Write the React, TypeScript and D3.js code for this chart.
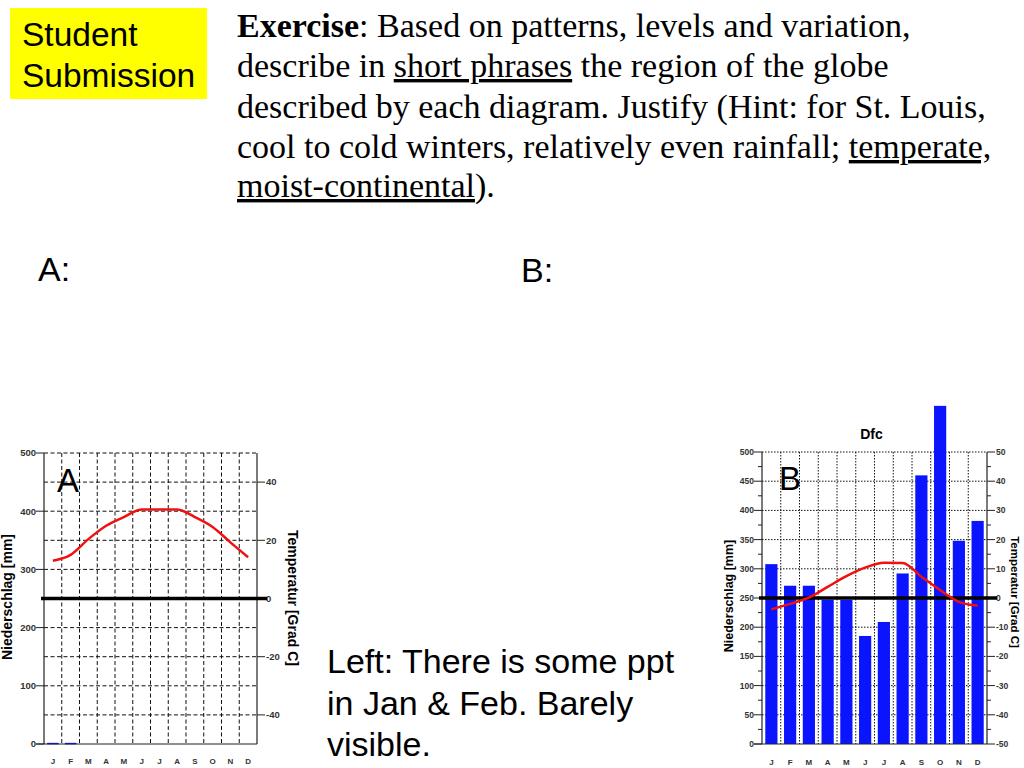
import React from "react";
import * as d3 from "d3";

const months = ["J", "F", "M", "A", "M", "J", "J", "A", "S", "O", "N", "D"];
const precipA = [2, 2, 0, 0, 0, 0, 0, 0, 0, 0, 0, 0];
const tempA = [13, 15, 20.4, 25, 28, 30.6, 30.6, 30.6, 28, 24.6, 19.3, 14.2];
const precipB = [308, 271, 271, 247, 247, 185, 209, 292, 460, 579, 348, 382];
const tempB = [-3.9, -2, 0.1, 3.8, 7.5, 10.4, 12.1, 12, 7.3, 2.7, -1.3, -2.6];
const mmTicksA = [0, 100, 200, 300, 400, 500];
const tTicksA = [40, 20, 0, -20, -40];
const mmTicksB = [0, 50, 100, 150, 200, 250, 300, 350, 400, 450, 500];
const tTicksB = [50, 40, 30, 20, 10, 0, -10, -20, -30, -40, -50];

type Cfg = {
  x0: number; x1: number; yTop: number; yBot: number;
  precip: number[]; temp: number[];
  mmTicks: number[]; tTicks: number[];
  minorMm: number[]; minorT: number[];
  dash: string; tickFont: number; labelFont: number; rightLabelFont: number; monthY: number; monthFont: number;
  letter: string; letterX: number; letterY: number;
  leftLabelX: number; leftLabelY: number; rightLabelX: number; rightLabelY: number;
  title?: string;
};

function Climate({ c }: { c: Cfg }) {
  const idx = months.map((_, i) => String(i));
  const x = d3.scaleBand<string>().domain(idx).range([c.x0, c.x1]).paddingInner(0.35).paddingOuter(0.175);
  const xb = d3.scaleBand<string>().domain(idx).range([c.x0, c.x1]);
  const y = d3.scaleLinear().domain([0, 500]).range([c.yBot, c.yTop]);
  const yt = d3.scaleLinear().domain([-50, 50]).range([c.yBot, c.yTop]);
  const grid = d3.range(50, 501, 50);
  const line = d3
    .line<number>()
    .x((_, i) => (xb(String(i)) as number) + xb.bandwidth() / 2)
    .y((d) => yt(d))
    .curve(d3.curveMonotoneX);
  const tf = "Liberation Sans, Arial, sans-serif";
  return (
    <g>
      {grid.map((g) => (
        <line key={"h" + g} x1={c.x0} x2={c.x1} y1={y(g)} y2={y(g)} stroke="#111" strokeWidth={1} strokeDasharray={c.dash} />
      ))}
      {idx.slice(1).map((k) => (
        <line key={"v" + k} x1={xb(k)} x2={xb(k)} y1={c.yTop} y2={c.yBot} stroke="#111" strokeWidth={1} strokeDasharray={c.dash} />
      ))}
      {c.precip.map((p, i) =>
        p > 0 ? (
          <rect key={"b" + i} x={x(String(i))} width={x.bandwidth()} y={y(p)} height={Math.max(1.5, c.yBot - y(p))} fill="#0a14ff" />
        ) : null
      )}
      <line x1={c.x0} x2={c.x0} y1={c.yTop} y2={c.yBot} stroke="#222" strokeWidth={1.2} />
      <line x1={c.x1} x2={c.x1} y1={c.yTop} y2={c.yBot} stroke="#222" strokeWidth={1.2} />
      <line x1={c.x0 - 8} x2={c.x1} y1={c.yBot} y2={c.yBot} stroke="#222" strokeWidth={1.2} />
      {c.mmTicks.map((t) => (
        <g key={"lt" + t}>
          <line x1={c.x0 - 8} x2={c.x0} y1={y(t)} y2={y(t)} stroke="#222" strokeWidth={1} />
          <text x={c.x0 - 8} y={y(t)} dy="0.35em" textAnchor="end" fontFamily={tf} fontWeight="bold" fontSize={c.tickFont} fill="#333">{t}</text>
        </g>
      ))}
      {c.minorMm.map((t) => (
        <line key={"lm" + t} x1={c.x0 - 4} x2={c.x0} y1={y(t)} y2={y(t)} stroke="#222" strokeWidth={1} />
      ))}
      {c.tTicks.map((t) => (
        <g key={"rt" + t}>
          <line x1={c.x1} x2={c.x1 + 8} y1={yt(t)} y2={yt(t)} stroke="#222" strokeWidth={1} />
          <text x={c.x1 + 9} y={yt(t)} dy="0.35em" textAnchor="start" fontFamily={tf} fontWeight="bold" fontSize={c.tickFont} fill="#333">{t}</text>
        </g>
      ))}
      {c.minorT.map((t) => (
        <line key={"rm" + t} x1={c.x1} x2={c.x1 + 4} y1={yt(t)} y2={yt(t)} stroke="#222" strokeWidth={1} />
      ))}
      <line x1={c.x0 - 3} x2={c.x1 + 10} y1={yt(0)} y2={yt(0)} stroke="#000" strokeWidth={3.5} />
      <path d={line(c.temp) || ""} fill="none" stroke="#f01010" strokeWidth={2.5} />
      {months.map((m, i) => (
        <text key={"m" + i} x={(xb(String(i)) as number) + xb.bandwidth() / 2} y={c.monthY} dy="0.35em" textAnchor="middle" fontFamily={tf} fontWeight="bold" fontSize={c.monthFont} fill="#333">{m}</text>
      ))}
      <text x={c.letterX} y={c.letterY} fontFamily={tf} fontSize={33} fill="#000">{c.letter}</text>
      <text transform={`translate(${c.leftLabelX},${c.leftLabelY}) rotate(-90)`} textAnchor="middle" dy="0.35em" fontFamily={tf} fontWeight="bold" fontSize={c.labelFont} fill="#000">Niederschlag [mm]</text>
      <text transform={`translate(${c.rightLabelX},${c.rightLabelY}) rotate(90)`} textAnchor="middle" dy="0.35em" fontFamily={tf} fontWeight="bold" fontSize={c.rightLabelFont} fill="#000">Temperatur [Grad C]</text>
      {c.title ? (
        <text x={(c.x0 + c.x1) / 2 - 3} y={434} dy="0.35em" textAnchor="middle" fontFamily={tf} fontWeight="bold" fontSize={14} fill="#000">{c.title}</text>
      ) : null}
    </g>
  );
}

const cfgA: Cfg = {
  x0: 44, x1: 257, yTop: 453, yBot: 744,
  precip: precipA, temp: tempA,
  mmTicks: mmTicksA, tTicks: tTicksA, minorMm: [], minorT: [],
  dash: "4,2.5", tickFont: 9.5, labelFont: 14, rightLabelFont: 14, monthY: 761, monthFont: 8,
  letter: "A", letterX: 57, letterY: 492,
  leftLabelX: 7, leftLabelY: 597, rightLabelX: 293, rightLabelY: 598,
};

const cfgB: Cfg = {
  x0: 762, x1: 987, yTop: 452, yBot: 744,
  precip: precipB, temp: tempB,
  mmTicks: mmTicksB, tTicks: tTicksB,
  minorMm: d3.range(25, 500, 50), minorT: d3.range(-45, 50, 10),
  dash: "1.5,1.5", tickFont: 8.5, labelFont: 12.5, rightLabelFont: 11.5, monthY: 762, monthFont: 8,
  letter: "B", letterX: 779, letterY: 490,
  leftLabelX: 729, leftLabelY: 596, rightLabelX: 1015, rightLabelY: 592,
  title: "Dfc",
};

export default function App() {
  const serif = "Liberation Serif, Times New Roman, serif";
  const sans = "Liberation Sans, Arial, sans-serif";
  const fs = 34;
  return (
    <svg width={1024} height={768} style={{ position: "absolute", left: 0, top: 0, background: "#fff" }}>
      <rect width={1024} height={768} fill="#fff" />
      <rect x={10} y={8} width={197} height={91} fill="#ffff00" />
      <text x={22} y={46} fontFamily={sans} fontSize={33.5} fill="#000">Student</text>
      <text x={22} y={87} fontFamily={sans} fontSize={33.5} fill="#000">Submission</text>

      <g fontFamily={serif} fontSize={fs} fill="#000">
        <text x={237} y={37}><tspan fontWeight="bold">Exercise</tspan>: Based on patterns, levels and variation,</text>
        <text x={237} y={77}>describe in <tspan textDecoration="underline">short phrases</tspan> the region of the globe</text>
        <text x={237} y={118}>described by each diagram. Justify (Hint: for St. Louis,</text>
        <text x={237} y={158}>cool to cold winters, relatively even rainfall; <tspan textDecoration="underline">temperate,</tspan></text>
        <text x={237} y={197}><tspan textDecoration="underline">moist-continental</tspan>).</text>
      </g>

      <text x={38} y={281} fontFamily={sans} fontSize={fs} fill="#000">A:</text>
      <text x={521} y={282} fontFamily={sans} fontSize={fs} fill="#000">B:</text>

      <g fontFamily={sans} fontSize={fs} fill="#000">
        <text x={327} y={673}>Left: There is some ppt</text>
        <text x={327} y={715}>in Jan &amp; Feb. Barely</text>
        <text x={327} y={756}>visible.</text>
      </g>

      <Climate c={cfgA} />
      <Climate c={cfgB} />
    </svg>
  );
}
